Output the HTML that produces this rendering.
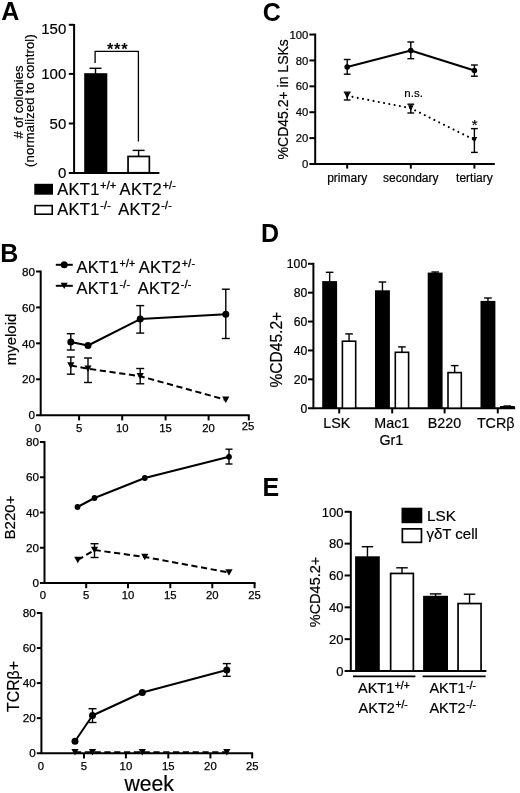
<!DOCTYPE html>
<html>
<head>
<meta charset="utf-8">
<title>Figure</title>
<style>
html, body { margin: 0; padding: 0; background: #fff; }
body { width: 520px; height: 793px; overflow: hidden; font-family: "Liberation Sans", sans-serif; }
svg { display: block; will-change: transform; }
svg text { font-family: "Liberation Sans", sans-serif; fill: #000; }
</style>
</head>
<body>
<svg width="520" height="793" viewBox="0 0 520 793">
<rect x="0" y="0" width="520" height="793" fill="#fff"/>
<text x="1.20" y="19.60" font-size="25" text-anchor="start" font-weight="bold" >A</text>
<line x1="74.10" y1="24.00" x2="74.10" y2="173.90" stroke="#000" stroke-width="2.0" />
<line x1="68.80" y1="172.90" x2="159.40" y2="172.90" stroke="#000" stroke-width="2.0" />
<line x1="68.80" y1="24.80" x2="74.10" y2="24.80" stroke="#000" stroke-width="2.0" />
<line x1="68.80" y1="73.90" x2="74.10" y2="73.90" stroke="#000" stroke-width="2.0" />
<line x1="68.80" y1="123.50" x2="74.10" y2="123.50" stroke="#000" stroke-width="2.0" />
<text x="66.30" y="33.90" font-size="15" text-anchor="end" font-weight="normal"  stroke="#000" stroke-width="0.2">150</text>
<text x="66.30" y="78.90" font-size="15" text-anchor="end" font-weight="normal"  stroke="#000" stroke-width="0.2">100</text>
<text x="66.30" y="128.60" font-size="15" text-anchor="end" font-weight="normal"  stroke="#000" stroke-width="0.2">50</text>
<text x="66.30" y="178.00" font-size="15" text-anchor="end" font-weight="normal"  stroke="#000" stroke-width="0.2">0</text>
<line x1="95.50" y1="68.30" x2="95.50" y2="74.00" stroke="#000" stroke-width="1.4" />
<line x1="89.50" y1="68.30" x2="101.50" y2="68.30" stroke="#000" stroke-width="1.4" />
<rect x="84.20" y="73.20" width="23.10" height="99.80" fill="#000"/>
<line x1="138.60" y1="150.40" x2="138.60" y2="157.00" stroke="#000" stroke-width="1.4" />
<line x1="132.60" y1="150.40" x2="144.60" y2="150.40" stroke="#000" stroke-width="1.4" />
<rect x="128.05" y="156.45" width="21.30" height="16.30" fill="#fff" stroke="#000" stroke-width="1.7"/>
<polyline points="95.10,63.00 95.10,51.30 138.40,51.30 138.40,141.40" fill="none" stroke="#000" stroke-width="1.3" stroke-linejoin="round" stroke-linecap="butt" />
<text x="117.70" y="55.00" font-size="16.5" text-anchor="middle" font-weight="bold" letter-spacing="0.7">***</text>
<text transform="translate(22.60,102.00) rotate(-90)" font-size="13" text-anchor="middle"  stroke="#000" stroke-width="0.2"># of colonies</text>
<text transform="translate(34.20,100.50) rotate(-90)" font-size="13" text-anchor="middle" letter-spacing="0.15" stroke="#000" stroke-width="0.2">(normalized to control)</text>
<rect x="34.30" y="183.80" width="18.70" height="10.90" fill="#000"/>
<rect x="35.10" y="205.60" width="17.10" height="8.60" fill="#fff" stroke="#000" stroke-width="1.6"/>
<text x="57.20" y="194.80" font-size="16.5" text-anchor="start" font-weight="normal" letter-spacing="0.3" stroke="#000" stroke-width="0.2">AKT1<tspan font-size="10.5" dy="-5.8" dx="0.6" stroke="#000" stroke-width="0.35">+/+</tspan><tspan dy="5.8" font-size="1"> </tspan> </text>
<text x="119.60" y="194.80" font-size="16.5" text-anchor="start" font-weight="normal" letter-spacing="0.3" stroke="#000" stroke-width="0.2">AKT2<tspan font-size="10.5" dy="-5.8" dx="0.6" stroke="#000" stroke-width="0.35">+/-</tspan><tspan dy="5.8" font-size="1"> </tspan></text>
<text x="57.20" y="214.80" font-size="16.5" text-anchor="start" font-weight="normal" letter-spacing="0.3" stroke="#000" stroke-width="0.2">AKT1<tspan font-size="10.5" dy="-5.8" dx="0.6" stroke="#000" stroke-width="0.35">-/-</tspan><tspan dy="5.8" font-size="1"> </tspan></text>
<text x="118.20" y="214.80" font-size="16.5" text-anchor="start" font-weight="normal" letter-spacing="0.3" stroke="#000" stroke-width="0.2">AKT2<tspan font-size="10.5" dy="-5.8" dx="0.6" stroke="#000" stroke-width="0.35">-/-</tspan><tspan dy="5.8" font-size="1"> </tspan></text>
<text x="0.20" y="261.80" font-size="25" text-anchor="start" font-weight="bold" >B</text>
<line x1="55.80" y1="264.80" x2="72.80" y2="264.80" stroke="#000" stroke-width="2" />
<circle cx="64.20" cy="264.80" r="3.5" fill="#000"/>
<line x1="55.80" y1="285.80" x2="72.80" y2="285.80" stroke="#000" stroke-width="2" />
<polygon points="60.60,282.70 67.80,282.70 64.20,289.10" fill="#000"/>
<text x="76.40" y="273.00" font-size="16.5" text-anchor="start" font-weight="normal" letter-spacing="0.3" stroke="#000" stroke-width="0.2">AKT1<tspan font-size="10.5" dy="-5.8" dx="0.6" stroke="#000" stroke-width="0.35">+/+</tspan><tspan dy="5.8" font-size="1"> </tspan></text>
<text x="138.80" y="273.00" font-size="16.5" text-anchor="start" font-weight="normal" letter-spacing="0.3" stroke="#000" stroke-width="0.2">AKT2<tspan font-size="10.5" dy="-5.8" dx="0.6" stroke="#000" stroke-width="0.35">+/-</tspan><tspan dy="5.8" font-size="1"> </tspan></text>
<text x="76.40" y="293.70" font-size="16.5" text-anchor="start" font-weight="normal" letter-spacing="0.3" stroke="#000" stroke-width="0.2">AKT1<tspan font-size="10.5" dy="-5.8" dx="0.6" stroke="#000" stroke-width="0.35">-/-</tspan><tspan dy="5.8" font-size="1"> </tspan></text>
<text x="137.80" y="293.70" font-size="16.5" text-anchor="start" font-weight="normal" letter-spacing="0.3" stroke="#000" stroke-width="0.2">AKT2<tspan font-size="10.5" dy="-5.8" dx="0.6" stroke="#000" stroke-width="0.35">-/-</tspan><tspan dy="5.8" font-size="1"> </tspan></text>
<line x1="40.70" y1="270.60" x2="40.70" y2="416.10" stroke="#000" stroke-width="2.0" />
<line x1="36.10" y1="415.20" x2="249.70" y2="415.20" stroke="#000" stroke-width="2.0" />
<line x1="36.10" y1="271.50" x2="40.70" y2="271.50" stroke="#000" stroke-width="2.0" />
<text x="35.10" y="275.70" font-size="11.7" text-anchor="end" font-weight="normal" stroke="#000" stroke-width="0.25">80</text>
<line x1="36.10" y1="307.43" x2="40.70" y2="307.43" stroke="#000" stroke-width="2.0" />
<text x="35.10" y="311.62" font-size="11.7" text-anchor="end" font-weight="normal" stroke="#000" stroke-width="0.25">60</text>
<line x1="36.10" y1="343.35" x2="40.70" y2="343.35" stroke="#000" stroke-width="2.0" />
<text x="35.10" y="347.55" font-size="11.7" text-anchor="end" font-weight="normal" stroke="#000" stroke-width="0.25">40</text>
<line x1="36.10" y1="379.27" x2="40.70" y2="379.27" stroke="#000" stroke-width="2.0" />
<text x="35.10" y="383.47" font-size="11.7" text-anchor="end" font-weight="normal" stroke="#000" stroke-width="0.25">20</text>
<text x="35.10" y="419.40" font-size="11.7" text-anchor="end" font-weight="normal" stroke="#000" stroke-width="0.25">0</text>
<line x1="79.10" y1="415.20" x2="79.10" y2="420.40" stroke="#000" stroke-width="2.0" />
<text x="79.10" y="432.20" font-size="11.3" text-anchor="middle" font-weight="normal" stroke="#000" stroke-width="0.25">5</text>
<line x1="122.20" y1="415.20" x2="122.20" y2="420.40" stroke="#000" stroke-width="2.0" />
<text x="122.20" y="432.20" font-size="11.3" text-anchor="middle" font-weight="normal" stroke="#000" stroke-width="0.25">10</text>
<line x1="165.60" y1="415.20" x2="165.60" y2="420.40" stroke="#000" stroke-width="2.0" />
<text x="165.60" y="432.20" font-size="11.3" text-anchor="middle" font-weight="normal" stroke="#000" stroke-width="0.25">15</text>
<line x1="208.60" y1="415.20" x2="208.60" y2="420.40" stroke="#000" stroke-width="2.0" />
<text x="208.60" y="432.20" font-size="11.3" text-anchor="middle" font-weight="normal" stroke="#000" stroke-width="0.25">20</text>
<line x1="248.80" y1="415.20" x2="248.80" y2="420.40" stroke="#000" stroke-width="2.0" />
<text x="248.10" y="429.60" font-size="11.3" text-anchor="middle" font-weight="normal" stroke="#000" stroke-width="0.25">25</text>
<text x="37.80" y="432.20" font-size="11.3" text-anchor="middle" font-weight="normal" stroke="#000" stroke-width="0.25">0</text>
<text transform="translate(16.00,339.50) rotate(-90)" font-size="15" text-anchor="middle"  stroke="#000" stroke-width="0.2">myeloid</text>
<line x1="70.80" y1="333.70" x2="70.80" y2="350.00" stroke="#000" stroke-width="1.4" />
<line x1="66.80" y1="333.70" x2="74.80" y2="333.70" stroke="#000" stroke-width="1.4" />
<line x1="66.80" y1="350.00" x2="74.80" y2="350.00" stroke="#000" stroke-width="1.4" />
<line x1="140.20" y1="305.60" x2="140.20" y2="333.10" stroke="#000" stroke-width="1.4" />
<line x1="136.20" y1="305.60" x2="144.20" y2="305.60" stroke="#000" stroke-width="1.4" />
<line x1="136.20" y1="333.10" x2="144.20" y2="333.10" stroke="#000" stroke-width="1.4" />
<line x1="225.80" y1="289.20" x2="225.80" y2="338.50" stroke="#000" stroke-width="1.4" />
<line x1="221.80" y1="289.20" x2="229.80" y2="289.20" stroke="#000" stroke-width="1.4" />
<line x1="221.80" y1="338.50" x2="229.80" y2="338.50" stroke="#000" stroke-width="1.4" />
<line x1="70.80" y1="357.00" x2="70.80" y2="374.20" stroke="#000" stroke-width="1.4" />
<line x1="66.80" y1="357.00" x2="74.80" y2="357.00" stroke="#000" stroke-width="1.4" />
<line x1="66.80" y1="374.20" x2="74.80" y2="374.20" stroke="#000" stroke-width="1.4" />
<line x1="88.00" y1="358.00" x2="88.00" y2="382.50" stroke="#000" stroke-width="1.4" />
<line x1="84.00" y1="358.00" x2="92.00" y2="358.00" stroke="#000" stroke-width="1.4" />
<line x1="84.00" y1="382.50" x2="92.00" y2="382.50" stroke="#000" stroke-width="1.4" />
<line x1="140.20" y1="368.50" x2="140.20" y2="383.80" stroke="#000" stroke-width="1.4" />
<line x1="136.20" y1="368.50" x2="144.20" y2="368.50" stroke="#000" stroke-width="1.4" />
<line x1="136.20" y1="383.80" x2="144.20" y2="383.80" stroke="#000" stroke-width="1.4" />
<polyline points="70.80,342.00 88.00,345.50 140.20,319.10 225.80,314.20" fill="none" stroke="#000" stroke-width="2.0" stroke-linejoin="round" stroke-linecap="butt" />
<circle cx="70.80" cy="342.00" r="3.5" fill="#000"/>
<circle cx="88.00" cy="345.50" r="3.5" fill="#000"/>
<circle cx="140.20" cy="319.10" r="3.5" fill="#000"/>
<circle cx="225.80" cy="314.20" r="3.5" fill="#000"/>
<polyline points="70.80,365.50 88.00,368.70 140.20,376.20 225.80,399.80" fill="none" stroke="#000" stroke-width="2.0" stroke-linejoin="round" stroke-linecap="butt" stroke-dasharray="6.2 3.6"/>
<polygon points="67.20,362.30 74.40,362.30 70.80,368.70" fill="#000"/>
<polygon points="84.40,365.50 91.60,365.50 88.00,371.90" fill="#000"/>
<polygon points="136.60,373.00 143.80,373.00 140.20,379.40" fill="#000"/>
<polygon points="222.20,396.60 229.40,396.60 225.80,403.00" fill="#000"/>
<line x1="44.50" y1="441.10" x2="44.50" y2="583.90" stroke="#000" stroke-width="2.0" />
<line x1="39.90" y1="583.00" x2="255.50" y2="583.00" stroke="#000" stroke-width="2.0" />
<line x1="39.90" y1="442.00" x2="44.50" y2="442.00" stroke="#000" stroke-width="2.0" />
<text x="38.90" y="446.20" font-size="11.7" text-anchor="end" font-weight="normal" stroke="#000" stroke-width="0.25">80</text>
<line x1="39.90" y1="477.25" x2="44.50" y2="477.25" stroke="#000" stroke-width="2.0" />
<text x="38.90" y="481.45" font-size="11.7" text-anchor="end" font-weight="normal" stroke="#000" stroke-width="0.25">60</text>
<line x1="39.90" y1="512.50" x2="44.50" y2="512.50" stroke="#000" stroke-width="2.0" />
<text x="38.90" y="516.70" font-size="11.7" text-anchor="end" font-weight="normal" stroke="#000" stroke-width="0.25">40</text>
<line x1="39.90" y1="547.75" x2="44.50" y2="547.75" stroke="#000" stroke-width="2.0" />
<text x="38.90" y="551.95" font-size="11.7" text-anchor="end" font-weight="normal" stroke="#000" stroke-width="0.25">20</text>
<text x="38.90" y="587.20" font-size="11.7" text-anchor="end" font-weight="normal" stroke="#000" stroke-width="0.25">0</text>
<line x1="86.20" y1="583.00" x2="86.20" y2="588.20" stroke="#000" stroke-width="2.0" />
<text x="86.20" y="598.80" font-size="11.3" text-anchor="middle" font-weight="normal" stroke="#000" stroke-width="0.25">5</text>
<line x1="128.00" y1="583.00" x2="128.00" y2="588.20" stroke="#000" stroke-width="2.0" />
<text x="128.00" y="598.80" font-size="11.3" text-anchor="middle" font-weight="normal" stroke="#000" stroke-width="0.25">10</text>
<line x1="170.30" y1="583.00" x2="170.30" y2="588.20" stroke="#000" stroke-width="2.0" />
<text x="170.30" y="598.80" font-size="11.3" text-anchor="middle" font-weight="normal" stroke="#000" stroke-width="0.25">15</text>
<line x1="212.30" y1="583.00" x2="212.30" y2="588.20" stroke="#000" stroke-width="2.0" />
<text x="212.30" y="598.80" font-size="11.3" text-anchor="middle" font-weight="normal" stroke="#000" stroke-width="0.25">20</text>
<line x1="254.60" y1="583.00" x2="254.60" y2="588.20" stroke="#000" stroke-width="2.0" />
<text x="254.60" y="598.80" font-size="11.3" text-anchor="middle" font-weight="normal" stroke="#000" stroke-width="0.25">25</text>
<text x="43.00" y="598.80" font-size="11.3" text-anchor="middle" font-weight="normal" stroke="#000" stroke-width="0.25">0</text>
<text transform="translate(14.80,517.50) rotate(-90)" font-size="15" text-anchor="middle"  stroke="#000" stroke-width="0.2">B220+</text>
<line x1="229.00" y1="449.20" x2="229.00" y2="464.00" stroke="#000" stroke-width="1.4" />
<line x1="225.50" y1="449.20" x2="232.50" y2="449.20" stroke="#000" stroke-width="1.4" />
<line x1="225.50" y1="464.00" x2="232.50" y2="464.00" stroke="#000" stroke-width="1.4" />
<line x1="94.50" y1="543.70" x2="94.50" y2="557.50" stroke="#000" stroke-width="1.4" />
<line x1="90.50" y1="543.70" x2="98.50" y2="543.70" stroke="#000" stroke-width="1.4" />
<line x1="90.50" y1="557.50" x2="98.50" y2="557.50" stroke="#000" stroke-width="1.4" />
<polyline points="77.50,507.00 94.50,498.00 144.80,478.00 229.00,456.80" fill="none" stroke="#000" stroke-width="2.0" stroke-linejoin="round" stroke-linecap="butt" />
<circle cx="77.50" cy="507.00" r="2.9" fill="#000"/>
<circle cx="94.50" cy="498.00" r="2.9" fill="#000"/>
<circle cx="144.80" cy="478.00" r="2.9" fill="#000"/>
<circle cx="229.00" cy="456.80" r="2.9" fill="#000"/>
<polyline points="77.80,560.00 94.50,550.00 144.80,557.00 229.00,572.50" fill="none" stroke="#000" stroke-width="2.0" stroke-linejoin="round" stroke-linecap="butt" stroke-dasharray="6.2 3.6"/>
<polygon points="74.20,556.80 81.40,556.80 77.80,563.20" fill="#000"/>
<polygon points="90.90,546.80 98.10,546.80 94.50,553.20" fill="#000"/>
<polygon points="141.20,553.80 148.40,553.80 144.80,560.20" fill="#000"/>
<polygon points="225.40,569.30 232.60,569.30 229.00,575.70" fill="#000"/>
<line x1="41.40" y1="612.10" x2="41.40" y2="754.10" stroke="#000" stroke-width="2.0" />
<line x1="36.80" y1="753.20" x2="253.10" y2="753.20" stroke="#000" stroke-width="2.0" />
<line x1="36.80" y1="613.00" x2="41.40" y2="613.00" stroke="#000" stroke-width="2.0" />
<text x="35.80" y="617.20" font-size="11.7" text-anchor="end" font-weight="normal" stroke="#000" stroke-width="0.25">80</text>
<line x1="36.80" y1="648.05" x2="41.40" y2="648.05" stroke="#000" stroke-width="2.0" />
<text x="35.80" y="652.25" font-size="11.7" text-anchor="end" font-weight="normal" stroke="#000" stroke-width="0.25">60</text>
<line x1="36.80" y1="683.10" x2="41.40" y2="683.10" stroke="#000" stroke-width="2.0" />
<text x="35.80" y="687.30" font-size="11.7" text-anchor="end" font-weight="normal" stroke="#000" stroke-width="0.25">40</text>
<line x1="36.80" y1="718.15" x2="41.40" y2="718.15" stroke="#000" stroke-width="2.0" />
<text x="35.80" y="722.35" font-size="11.7" text-anchor="end" font-weight="normal" stroke="#000" stroke-width="0.25">20</text>
<text x="35.80" y="757.40" font-size="11.7" text-anchor="end" font-weight="normal" stroke="#000" stroke-width="0.25">0</text>
<line x1="84.00" y1="753.20" x2="84.00" y2="758.40" stroke="#000" stroke-width="2.0" />
<text x="84.00" y="770.20" font-size="11.3" text-anchor="middle" font-weight="normal" stroke="#000" stroke-width="0.25">5</text>
<line x1="125.90" y1="753.20" x2="125.90" y2="758.40" stroke="#000" stroke-width="2.0" />
<text x="125.90" y="770.20" font-size="11.3" text-anchor="middle" font-weight="normal" stroke="#000" stroke-width="0.25">10</text>
<line x1="168.30" y1="753.20" x2="168.30" y2="758.40" stroke="#000" stroke-width="2.0" />
<text x="168.30" y="770.20" font-size="11.3" text-anchor="middle" font-weight="normal" stroke="#000" stroke-width="0.25">15</text>
<line x1="210.40" y1="753.20" x2="210.40" y2="758.40" stroke="#000" stroke-width="2.0" />
<text x="210.40" y="770.20" font-size="11.3" text-anchor="middle" font-weight="normal" stroke="#000" stroke-width="0.25">20</text>
<line x1="252.20" y1="753.20" x2="252.20" y2="758.40" stroke="#000" stroke-width="2.0" />
<text x="252.20" y="770.20" font-size="11.3" text-anchor="middle" font-weight="normal" stroke="#000" stroke-width="0.25">25</text>
<text x="41.00" y="770.20" font-size="11.3" text-anchor="middle" font-weight="normal" stroke="#000" stroke-width="0.25">0</text>
<text transform="translate(18.50,686.50) rotate(-90)" font-size="15.8" text-anchor="middle"  stroke="#000" stroke-width="0.2">TCR&#946;+</text>
<line x1="92.50" y1="708.70" x2="92.50" y2="722.50" stroke="#000" stroke-width="1.4" />
<line x1="88.50" y1="708.70" x2="96.50" y2="708.70" stroke="#000" stroke-width="1.4" />
<line x1="88.50" y1="722.50" x2="96.50" y2="722.50" stroke="#000" stroke-width="1.4" />
<line x1="226.80" y1="663.60" x2="226.80" y2="676.30" stroke="#000" stroke-width="1.4" />
<line x1="222.80" y1="663.60" x2="230.80" y2="663.60" stroke="#000" stroke-width="1.4" />
<line x1="222.80" y1="676.30" x2="230.80" y2="676.30" stroke="#000" stroke-width="1.4" />
<polyline points="75.00,741.20 92.50,715.50 142.30,692.50 226.80,670.00" fill="none" stroke="#000" stroke-width="2.0" stroke-linejoin="round" stroke-linecap="butt" />
<circle cx="75.00" cy="741.20" r="3.5" fill="#000"/>
<circle cx="92.50" cy="715.50" r="3.5" fill="#000"/>
<circle cx="142.30" cy="692.50" r="3.5" fill="#000"/>
<circle cx="226.80" cy="670.00" r="3.5" fill="#000"/>
<polyline points="75.00,752.30 92.50,752.30 142.30,752.30 226.80,752.30" fill="none" stroke="#000" stroke-width="2.0" stroke-linejoin="round" stroke-linecap="butt" stroke-dasharray="6.2 3.6"/>
<polygon points="71.40,749.10 78.60,749.10 75.00,755.50" fill="#000"/>
<polygon points="88.90,749.10 96.10,749.10 92.50,755.50" fill="#000"/>
<polygon points="138.70,749.10 145.90,749.10 142.30,755.50" fill="#000"/>
<polygon points="223.20,749.10 230.40,749.10 226.80,755.50" fill="#000"/>
<text x="149.20" y="791.40" font-size="21.2" text-anchor="middle" font-weight="normal"  stroke="#000" stroke-width="0.2">week</text>
<text x="262.80" y="20.50" font-size="25" text-anchor="start" font-weight="bold" >C</text>
<line x1="315.20" y1="33.60" x2="315.20" y2="164.90" stroke="#000" stroke-width="2.0" />
<line x1="309.40" y1="164.00" x2="494.80" y2="164.00" stroke="#000" stroke-width="2.0" />
<line x1="309.40" y1="34.55" x2="315.20" y2="34.55" stroke="#000" stroke-width="2.0" />
<text x="308.30" y="38.65" font-size="11.3" text-anchor="end" font-weight="normal" stroke="#000" stroke-width="0.2">100</text>
<line x1="309.40" y1="60.44" x2="315.20" y2="60.44" stroke="#000" stroke-width="2.0" />
<text x="308.30" y="64.54" font-size="11.3" text-anchor="end" font-weight="normal" stroke="#000" stroke-width="0.2">80</text>
<line x1="309.40" y1="86.33" x2="315.20" y2="86.33" stroke="#000" stroke-width="2.0" />
<text x="308.30" y="90.43" font-size="11.3" text-anchor="end" font-weight="normal" stroke="#000" stroke-width="0.2">60</text>
<line x1="309.40" y1="112.22" x2="315.20" y2="112.22" stroke="#000" stroke-width="2.0" />
<text x="308.30" y="116.32" font-size="11.3" text-anchor="end" font-weight="normal" stroke="#000" stroke-width="0.2">40</text>
<line x1="309.40" y1="138.11" x2="315.20" y2="138.11" stroke="#000" stroke-width="2.0" />
<text x="308.30" y="142.21" font-size="11.3" text-anchor="end" font-weight="normal" stroke="#000" stroke-width="0.2">20</text>
<text x="308.30" y="168.10" font-size="11.3" text-anchor="end" font-weight="normal" stroke="#000" stroke-width="0.2">0</text>
<line x1="347.20" y1="164.00" x2="347.20" y2="168.60" stroke="#000" stroke-width="2.0" />
<text x="347.20" y="182.00" font-size="12" text-anchor="middle" font-weight="normal"  stroke="#000" stroke-width="0.2">primary</text>
<line x1="410.80" y1="164.00" x2="410.80" y2="168.60" stroke="#000" stroke-width="2.0" />
<text x="410.80" y="182.00" font-size="12" text-anchor="middle" font-weight="normal"  stroke="#000" stroke-width="0.2">secondary</text>
<line x1="474.40" y1="164.00" x2="474.40" y2="168.60" stroke="#000" stroke-width="2.0" />
<text x="474.40" y="182.00" font-size="12" text-anchor="middle" font-weight="normal"  stroke="#000" stroke-width="0.2">tertiary</text>
<text transform="translate(288.40,99.30) rotate(-90)" font-size="14" text-anchor="middle" stroke="#000" stroke-width="0.2">%CD45.2+ in LSKs</text>
<line x1="347.20" y1="59.50" x2="347.20" y2="74.20" stroke="#000" stroke-width="1.4" />
<line x1="343.80" y1="59.50" x2="350.60" y2="59.50" stroke="#000" stroke-width="1.4" />
<line x1="343.80" y1="74.20" x2="350.60" y2="74.20" stroke="#000" stroke-width="1.4" />
<line x1="410.80" y1="42.00" x2="410.80" y2="58.70" stroke="#000" stroke-width="1.4" />
<line x1="407.40" y1="42.00" x2="414.20" y2="42.00" stroke="#000" stroke-width="1.4" />
<line x1="407.40" y1="58.70" x2="414.20" y2="58.70" stroke="#000" stroke-width="1.4" />
<line x1="474.40" y1="65.00" x2="474.40" y2="76.20" stroke="#000" stroke-width="1.4" />
<line x1="471.00" y1="65.00" x2="477.80" y2="65.00" stroke="#000" stroke-width="1.4" />
<line x1="471.00" y1="76.20" x2="477.80" y2="76.20" stroke="#000" stroke-width="1.4" />
<line x1="347.20" y1="92.20" x2="347.20" y2="100.00" stroke="#000" stroke-width="1.4" />
<line x1="343.80" y1="92.20" x2="350.60" y2="92.20" stroke="#000" stroke-width="1.4" />
<line x1="343.80" y1="100.00" x2="350.60" y2="100.00" stroke="#000" stroke-width="1.4" />
<line x1="410.80" y1="104.20" x2="410.80" y2="113.00" stroke="#000" stroke-width="1.4" />
<line x1="407.40" y1="104.20" x2="414.20" y2="104.20" stroke="#000" stroke-width="1.4" />
<line x1="407.40" y1="113.00" x2="414.20" y2="113.00" stroke="#000" stroke-width="1.4" />
<line x1="474.40" y1="128.60" x2="474.40" y2="152.40" stroke="#000" stroke-width="1.4" />
<line x1="471.00" y1="128.60" x2="477.80" y2="128.60" stroke="#000" stroke-width="1.4" />
<line x1="471.00" y1="152.40" x2="477.80" y2="152.40" stroke="#000" stroke-width="1.4" />
<polyline points="347.20,67.00 410.80,50.50 474.40,70.50" fill="none" stroke="#000" stroke-width="2.0" stroke-linejoin="round" stroke-linecap="butt" />
<circle cx="347.20" cy="67.00" r="2.8" fill="#000"/>
<circle cx="410.80" cy="50.50" r="2.8" fill="#000"/>
<circle cx="474.40" cy="70.50" r="2.8" fill="#000"/>
<polyline points="347.20,95.80 410.80,108.20 474.40,139.90" fill="none" stroke="#000" stroke-width="2.1" stroke-linejoin="round" stroke-linecap="round" stroke-dasharray="0.01 5.35"/>
<polygon points="344.40,92.90 350.00,92.90 347.20,98.70" fill="#000"/>
<polygon points="408.00,105.30 413.60,105.30 410.80,111.10" fill="#000"/>
<polygon points="471.60,137.00 477.20,137.00 474.40,142.80" fill="#000"/>
<text x="413.60" y="97.00" font-size="11.5" text-anchor="middle" font-weight="normal"  stroke="#000" stroke-width="0.2">n.s.</text>
<text x="474.60" y="129.90" font-size="15" text-anchor="middle" font-weight="normal"  stroke="#000" stroke-width="0.2">*</text>
<text x="261.00" y="241.90" font-size="25" text-anchor="start" font-weight="bold" >D</text>
<line x1="313.40" y1="262.90" x2="313.40" y2="409.10" stroke="#000" stroke-width="2.0" />
<line x1="308.00" y1="408.20" x2="515.20" y2="408.20" stroke="#000" stroke-width="2.0" />
<line x1="308.00" y1="263.80" x2="313.40" y2="263.80" stroke="#000" stroke-width="2.0" />
<text x="307.20" y="268.10" font-size="12.2" text-anchor="end" font-weight="normal" stroke="#000" stroke-width="0.2">100</text>
<line x1="308.00" y1="292.68" x2="313.40" y2="292.68" stroke="#000" stroke-width="2.0" />
<text x="307.20" y="296.98" font-size="12.2" text-anchor="end" font-weight="normal" stroke="#000" stroke-width="0.2">80</text>
<line x1="308.00" y1="321.56" x2="313.40" y2="321.56" stroke="#000" stroke-width="2.0" />
<text x="307.20" y="325.86" font-size="12.2" text-anchor="end" font-weight="normal" stroke="#000" stroke-width="0.2">60</text>
<line x1="308.00" y1="350.44" x2="313.40" y2="350.44" stroke="#000" stroke-width="2.0" />
<text x="307.20" y="354.74" font-size="12.2" text-anchor="end" font-weight="normal" stroke="#000" stroke-width="0.2">40</text>
<line x1="308.00" y1="379.32" x2="313.40" y2="379.32" stroke="#000" stroke-width="2.0" />
<text x="307.20" y="383.62" font-size="12.2" text-anchor="end" font-weight="normal" stroke="#000" stroke-width="0.2">20</text>
<text x="307.20" y="412.50" font-size="12.2" text-anchor="end" font-weight="normal" stroke="#000" stroke-width="0.2">0</text>
<text transform="translate(281.60,349.70) rotate(-90)" font-size="15.6" text-anchor="middle"  stroke="#000" stroke-width="0.2">%CD45.2+</text>
<line x1="329.65" y1="272.30" x2="329.65" y2="282.10" stroke="#000" stroke-width="1.4" />
<line x1="325.85" y1="272.30" x2="333.45" y2="272.30" stroke="#000" stroke-width="1.4" />
<rect x="322.20" y="281.10" width="14.90" height="127.30" fill="#000"/>
<line x1="349.05" y1="333.90" x2="349.05" y2="341.40" stroke="#000" stroke-width="1.4" />
<line x1="345.25" y1="333.90" x2="352.85" y2="333.90" stroke="#000" stroke-width="1.4" />
<rect x="342.40" y="341.20" width="13.30" height="67.00" fill="#fff" stroke="#000" stroke-width="1.6"/>
<text x="336.80" y="427.60" font-size="14.3" text-anchor="middle" font-weight="normal"  stroke="#000" stroke-width="0.2">LSK</text>
<line x1="382.45" y1="282.00" x2="382.45" y2="291.30" stroke="#000" stroke-width="1.4" />
<line x1="378.65" y1="282.00" x2="386.25" y2="282.00" stroke="#000" stroke-width="1.4" />
<rect x="375.00" y="290.30" width="14.90" height="118.10" fill="#000"/>
<line x1="401.95" y1="346.90" x2="401.95" y2="352.50" stroke="#000" stroke-width="1.4" />
<line x1="398.15" y1="346.90" x2="405.75" y2="346.90" stroke="#000" stroke-width="1.4" />
<rect x="395.30" y="352.30" width="13.30" height="55.90" fill="#fff" stroke="#000" stroke-width="1.6"/>
<text x="391.80" y="427.60" font-size="14.3" text-anchor="middle" font-weight="normal"  stroke="#000" stroke-width="0.2">Mac1</text>
<line x1="435.15" y1="272.00" x2="435.15" y2="273.60" stroke="#000" stroke-width="1.4" />
<line x1="431.35" y1="272.00" x2="438.95" y2="272.00" stroke="#000" stroke-width="1.4" />
<rect x="427.70" y="272.60" width="14.90" height="135.80" fill="#000"/>
<line x1="454.65" y1="365.60" x2="454.65" y2="372.80" stroke="#000" stroke-width="1.4" />
<line x1="450.85" y1="365.60" x2="458.45" y2="365.60" stroke="#000" stroke-width="1.4" />
<rect x="448.00" y="372.60" width="13.30" height="35.60" fill="#fff" stroke="#000" stroke-width="1.6"/>
<text x="444.50" y="427.60" font-size="14.3" text-anchor="middle" font-weight="normal"  stroke="#000" stroke-width="0.2">B220</text>
<line x1="487.95" y1="298.00" x2="487.95" y2="301.90" stroke="#000" stroke-width="1.4" />
<line x1="484.15" y1="298.00" x2="491.75" y2="298.00" stroke="#000" stroke-width="1.4" />
<rect x="480.50" y="300.90" width="14.90" height="107.50" fill="#000"/>
<line x1="507.35" y1="406.00" x2="507.35" y2="407.00" stroke="#000" stroke-width="1.4" />
<line x1="503.55" y1="406.00" x2="511.15" y2="406.00" stroke="#000" stroke-width="1.4" />
<rect x="500.70" y="406.80" width="13.30" height="1.40" fill="#fff" stroke="#000" stroke-width="1.6"/>
<text x="495.70" y="427.60" font-size="14.3" text-anchor="middle" font-weight="normal"  stroke="#000" stroke-width="0.2">TCR&#946;</text>
<line x1="339.20" y1="408.20" x2="339.20" y2="413.40" stroke="#000" stroke-width="2.0" />
<line x1="392.20" y1="408.20" x2="392.20" y2="413.40" stroke="#000" stroke-width="2.0" />
<line x1="444.60" y1="408.20" x2="444.60" y2="413.40" stroke="#000" stroke-width="2.0" />
<line x1="497.80" y1="408.20" x2="497.80" y2="413.40" stroke="#000" stroke-width="2.0" />
<text x="391.40" y="445.30" font-size="14.3" text-anchor="middle" font-weight="normal"  stroke="#000" stroke-width="0.2">Gr1</text>
<text x="262.40" y="495.60" font-size="25" text-anchor="start" font-weight="bold" >E</text>
<line x1="350.80" y1="511.00" x2="350.80" y2="671.90" stroke="#000" stroke-width="2.0" />
<line x1="344.60" y1="671.00" x2="486.40" y2="671.00" stroke="#000" stroke-width="2.0" />
<line x1="344.60" y1="511.80" x2="350.80" y2="511.80" stroke="#000" stroke-width="2.0" />
<text x="343.40" y="516.50" font-size="13" text-anchor="end" font-weight="normal" stroke="#000" stroke-width="0.2">100</text>
<line x1="344.60" y1="543.64" x2="350.80" y2="543.64" stroke="#000" stroke-width="2.0" />
<text x="343.40" y="548.34" font-size="13" text-anchor="end" font-weight="normal" stroke="#000" stroke-width="0.2">80</text>
<line x1="344.60" y1="575.48" x2="350.80" y2="575.48" stroke="#000" stroke-width="2.0" />
<text x="343.40" y="580.18" font-size="13" text-anchor="end" font-weight="normal" stroke="#000" stroke-width="0.2">60</text>
<line x1="344.60" y1="607.32" x2="350.80" y2="607.32" stroke="#000" stroke-width="2.0" />
<text x="343.40" y="612.02" font-size="13" text-anchor="end" font-weight="normal" stroke="#000" stroke-width="0.2">40</text>
<line x1="344.60" y1="639.16" x2="350.80" y2="639.16" stroke="#000" stroke-width="2.0" />
<text x="343.40" y="643.86" font-size="13" text-anchor="end" font-weight="normal" stroke="#000" stroke-width="0.2">20</text>
<text x="343.40" y="675.70" font-size="13" text-anchor="end" font-weight="normal" stroke="#000" stroke-width="0.2">0</text>
<text transform="translate(320.40,592.00) rotate(-90)" font-size="14.5" text-anchor="middle"  stroke="#000" stroke-width="0.2">%CD45.2+</text>
<line x1="367.45" y1="546.70" x2="367.45" y2="557.30" stroke="#000" stroke-width="1.4" />
<line x1="361.70" y1="546.70" x2="373.20" y2="546.70" stroke="#000" stroke-width="1.4" />
<rect x="355.10" y="556.30" width="24.70" height="115.00" fill="#000"/>
<line x1="402.00" y1="567.80" x2="402.00" y2="573.60" stroke="#000" stroke-width="1.4" />
<line x1="396.25" y1="567.80" x2="407.75" y2="567.80" stroke="#000" stroke-width="1.4" />
<rect x="390.65" y="573.45" width="22.70" height="97.50" fill="#fff" stroke="#000" stroke-width="1.7"/>
<line x1="435.55" y1="593.90" x2="435.55" y2="596.80" stroke="#000" stroke-width="1.4" />
<line x1="429.80" y1="593.90" x2="441.30" y2="593.90" stroke="#000" stroke-width="1.4" />
<rect x="423.10" y="595.80" width="24.90" height="75.50" fill="#000"/>
<line x1="469.55" y1="594.20" x2="469.55" y2="603.70" stroke="#000" stroke-width="1.4" />
<line x1="463.80" y1="594.20" x2="475.30" y2="594.20" stroke="#000" stroke-width="1.4" />
<rect x="458.05" y="603.55" width="23.00" height="67.40" fill="#fff" stroke="#000" stroke-width="1.7"/>
<line x1="353.00" y1="676.40" x2="415.40" y2="676.40" stroke="#000" stroke-width="1.9" />
<line x1="422.60" y1="676.40" x2="485.60" y2="676.40" stroke="#000" stroke-width="1.9" />
<rect x="401.50" y="507.70" width="20.80" height="15.50" fill="#000"/>
<rect x="402.35" y="528.85" width="19.10" height="13.50" fill="#fff" stroke="#000" stroke-width="1.7"/>
<text x="427.00" y="521.30" font-size="15.3" text-anchor="start" font-weight="normal"  stroke="#000" stroke-width="0.2">LSK</text>
<text x="426.40" y="539.10" font-size="15" text-anchor="start" font-weight="normal"  stroke="#000" stroke-width="0.2">&#947;&#948;T cell</text>
<text x="358.00" y="693.30" font-size="14.5" text-anchor="start" font-weight="normal"  stroke="#000" stroke-width="0.2">AKT1<tspan font-size="10.2" dy="-4.8" dx="0.6" stroke="#000" stroke-width="0.35">+/+</tspan><tspan dy="4.8" font-size="1"> </tspan></text>
<text x="358.60" y="712.90" font-size="14.5" text-anchor="start" font-weight="normal"  stroke="#000" stroke-width="0.2">AKT2<tspan font-size="10.2" dy="-4.8" dx="0.6" stroke="#000" stroke-width="0.35">+/-</tspan><tspan dy="4.8" font-size="1"> </tspan></text>
<text x="429.40" y="693.30" font-size="14.5" text-anchor="start" font-weight="normal"  stroke="#000" stroke-width="0.2">AKT1<tspan font-size="10.2" dy="-4.8" dx="0.6" stroke="#000" stroke-width="0.35">-/-</tspan><tspan dy="4.8" font-size="1"> </tspan></text>
<text x="429.40" y="712.90" font-size="14.5" text-anchor="start" font-weight="normal"  stroke="#000" stroke-width="0.2">AKT2<tspan font-size="10.2" dy="-4.8" dx="0.6" stroke="#000" stroke-width="0.35">-/-</tspan><tspan dy="4.8" font-size="1"> </tspan></text>
</svg>
</body>
</html>
